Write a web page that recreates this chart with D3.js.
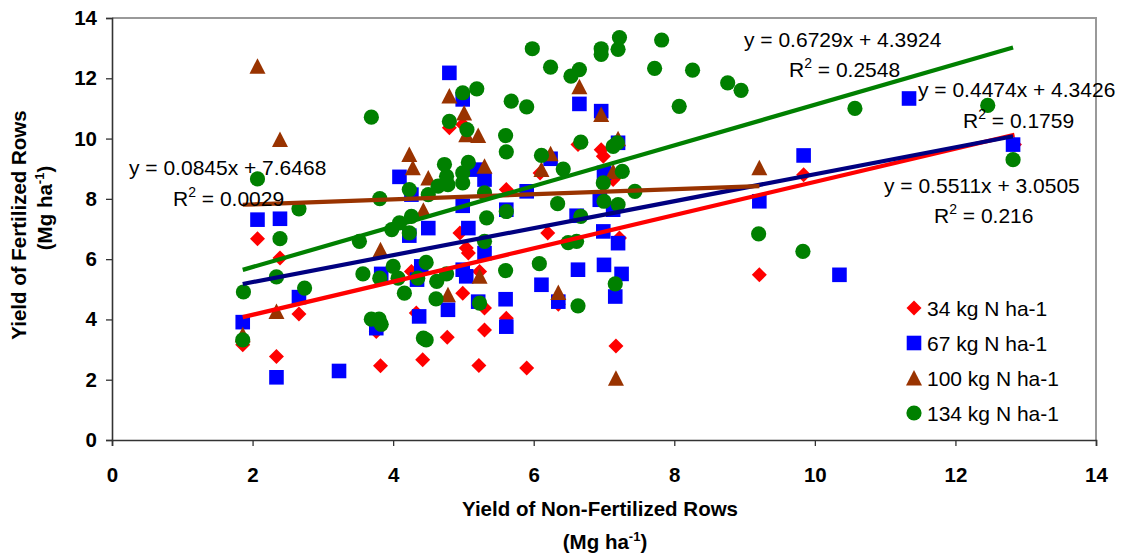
<!DOCTYPE html>
<html>
<head>
<meta charset="utf-8">
<script src="https://cdn.jsdelivr.net/npm/d3@7"></script>
<style>
  body { margin: 0; background: #fff; }
  svg { display: block; font-family: "Liberation Sans", Arial, sans-serif; }
</style>
</head>
<body>
<svg width="1131" height="554"></svg>
<script>
// Yield of fertilized vs non-fertilized rows, four N rates

const seriesNames = ["34 kg N ha-1", "67 kg N ha-1", "100 kg N ha-1", "134 kg N ha-1"];

// [non-fertilized yield, fertilized yield]
const n34 = [
  [1.86, 3.16], [2.07, 6.68], [2.39, 6.04], [2.34, 2.77], [2.66, 4.18], [3.76, 3.60],
  [3.82, 2.46], [4.26, 5.59], [4.33, 4.21], [4.42, 2.66], [4.77, 3.41], [4.80, 10.36],
  [4.99, 10.47], [4.95, 6.87], [5.04, 6.37], [5.07, 6.20], [5.23, 5.59], [4.99, 4.87],
  [5.30, 4.38], [5.30, 3.65], [5.22, 2.47], [5.61, 8.31], [5.61, 4.04], [5.90, 2.39],
  [6.09, 8.86], [6.20, 6.87], [6.35, 4.50], [6.63, 9.80], [6.96, 9.63], [6.99, 9.41],
  [7.13, 8.64], [7.17, 3.12], [7.22, 6.70], [9.21, 5.48], [9.84, 8.80], [12.84, 9.80]
];
const n67 = [
  [1.86, 3.91], [2.07, 7.31], [2.39, 7.34], [2.34, 2.08], [2.66, 4.74], [3.23, 2.29],
  [3.76, 3.71], [3.83, 5.51], [4.09, 8.73], [4.26, 8.14], [4.23, 6.78], [4.50, 7.03],
  [4.34, 5.32], [4.40, 5.76], [4.37, 4.10], [4.80, 12.18], [4.99, 11.30], [5.18, 8.97],
  [5.30, 8.64], [4.99, 7.77], [5.07, 7.03], [5.30, 6.20], [4.99, 5.65], [5.04, 5.43],
  [4.78, 4.32], [5.21, 4.59], [5.61, 7.64], [5.60, 4.67], [5.61, 3.76], [5.90, 8.25],
  [6.11, 5.15], [6.24, 9.33], [6.35, 4.59], [6.61, 7.44], [6.63, 5.65], [6.65, 11.15],
  [6.96, 10.91], [6.94, 7.97], [6.99, 6.92], [7.00, 8.86], [7.00, 5.81], [7.13, 7.64],
  [7.20, 9.86], [7.20, 6.53], [7.25, 5.51], [7.16, 4.76], [9.21, 7.92], [9.84, 9.44],
  [10.35, 5.48], [11.34, 11.33], [12.82, 9.80]
];
const n100 = [
  [1.86, 3.49], [2.07, 12.40], [2.39, 9.97], [2.34, 4.26], [3.82, 6.31], [4.23, 9.47],
  [4.28, 9.03], [4.50, 8.69], [4.43, 7.62], [4.80, 11.41], [5.01, 10.85], [5.04, 10.13],
  [5.21, 10.10], [5.30, 9.08], [4.78, 4.82], [5.23, 5.43], [6.11, 8.97], [6.24, 9.50],
  [6.35, 4.89], [6.65, 11.72], [6.96, 10.80], [7.20, 9.99], [7.13, 8.91], [7.17, 2.05],
  [9.21, 9.03]
];
const n134 = [
  [1.86, 3.32], [1.87, 4.91], [2.07, 8.66], [2.39, 6.68], [2.34, 5.41], [2.66, 7.67],
  [2.74, 5.04], [3.52, 6.59], [3.57, 5.51], [3.69, 10.71], [3.69, 4.01], [3.80, 4.01],
  [3.83, 3.84], [3.81, 5.37], [3.81, 8.01], [3.98, 6.98], [4.00, 5.76], [4.07, 5.37],
  [4.09, 7.20], [4.16, 4.87], [4.23, 8.31], [4.26, 7.42], [4.23, 6.87], [4.35, 5.37],
  [4.47, 5.89], [4.50, 8.14], [4.43, 3.38], [4.47, 3.32], [4.62, 5.26], [4.61, 4.68],
  [4.64, 8.42], [4.73, 9.14], [4.76, 8.75], [4.78, 8.47], [4.76, 5.51], [4.80, 10.57],
  [4.99, 11.52], [5.19, 11.65], [5.05, 10.30], [5.07, 9.21], [4.99, 8.86], [4.99, 8.53],
  [5.30, 8.20], [5.33, 7.37], [5.30, 6.59], [5.23, 4.54], [5.60, 10.10], [5.61, 9.56],
  [5.68, 11.24], [5.90, 11.05], [5.61, 7.58], [5.60, 5.62], [5.98, 12.98], [6.11, 9.44],
  [6.08, 5.85], [6.24, 12.37], [6.34, 7.84], [6.42, 8.99], [6.49, 6.55], [6.53, 12.07],
  [6.65, 12.29], [6.61, 6.59], [6.63, 4.45], [6.67, 9.88], [6.67, 7.42], [6.96, 12.98],
  [6.96, 12.79], [6.99, 8.53], [7.00, 7.92], [7.13, 9.74], [7.19, 9.86], [7.20, 7.81],
  [7.20, 12.96], [7.22, 13.35], [7.26, 8.91], [7.16, 5.18], [7.44, 8.25], [7.72, 12.33],
  [7.82, 13.27], [8.07, 11.07], [8.26, 12.27], [8.76, 11.85], [8.95, 11.60], [9.20, 6.84],
  [9.83, 6.26], [10.57, 11.00], [12.46, 11.10], [12.82, 9.30]
];

// linear trendlines as reported on the chart
const slopes = [0.5511, 0.4474, 0.0845, 0.6729];
const intercepts = [3.0505, 4.3426, 7.6468, 4.3924];
const rSquared = ["0.216", "0.1759", "0.0029", "0.2548"];

const xTicks = [0, 2, 4, 6, 8, 10, 12, 14];
const yTicks = [0, 2, 4, 6, 8, 10, 12, 14];

var allSeries = [n34, n67, n100, n134];
var markerColors = ["#ff0000", "#0000ff", "#993300", "#008000"];
var lineColors = ["#ff0000", "#000080", "#993300", "#008000"];
var shapes = ["diamond", "square", "triangle", "circle"];

var svg = d3.select("svg"),
    plotLeft = 112, plotRight = 1096, plotTop = 18, plotBottom = 440;

var xScale = d3.scaleLinear().domain([0, 14]).range([plotLeft, plotRight]);
var yScale = d3.scaleLinear().domain([0, 14]).range([plotBottom, plotTop]);

function shapePath(shape) {
    if (shape == "diamond") return "M0,-7.5L7.5,0L0,7.5L-7.5,0Z";
    if (shape == "square") return "M-7.3,-7.3H7.3V7.3H-7.3Z";
    if (shape == "triangle") return "M0,-8L8,7.5H-8Z";
    return d3.symbol(d3.symbolCircle, Math.PI * 7.6 * 7.6)();
}

// plot area frame (top and right; left/bottom are the axes)
svg.append("path")
    .attr("d", "M" + plotLeft + "," + plotTop + "H" + plotRight + "V" + plotBottom)
    .attr("fill", "none")
    .attr("stroke", "#999")
    .attr("stroke-width", 2);

// axes
var yAxis = svg.append("g")
    .attr("transform", "translate(" + plotLeft + ",0)")
    .call(d3.axisLeft(yScale).tickValues(yTicks).tickSize(6).tickPadding(9).tickFormat(d3.format("d")));
var xAxis = svg.append("g")
    .attr("transform", "translate(0," + plotBottom + ")")
    .call(d3.axisBottom(xScale).tickValues(xTicks).tickSize(6).tickPadding(21).tickFormat(d3.format("d")));

[xAxis, yAxis].forEach(function(a) {
    a.select(".domain").attr("stroke", "#333").attr("stroke-width", 1.6);
    a.selectAll(".tick line").attr("stroke", "#333").attr("stroke-width", 1.3);
    a.selectAll(".tick text")
        .attr("fill", "#000")
        .style("font-family", "'Liberation Sans', Arial, sans-serif")
        .style("font-size", "20.5px")
        .style("font-weight", "bold");
});

// markers, series in order so green ends up on top
allSeries.forEach(function(data, i) {
    svg.append("g").selectAll("path")
        .data(data)
        .enter()
        .append("path")
        .attr("d", shapePath(shapes[i]))
        .attr("transform", function(d) { return "translate(" + xScale(d[0]) + "," + yScale(d[1]) + ")"; })
        .attr("fill", markerColors[i]);
});

// trendlines over the range of each series
allSeries.forEach(function(data, i) {
    var ext = d3.extent(data, function(d) { return d[0]; });
    var pts = ext.map(function(v) { return [v, slopes[i] * v + intercepts[i]]; });
    svg.append("path")
        .datum(pts)
        .attr("d", d3.line().x(function(d) { return xScale(d[0]); }).y(function(d) { return yScale(d[1]); }))
        .attr("stroke", lineColors[i])
        .attr("stroke-width", 4.2)
        .attr("fill", "none");
});

// trendline labels
var labelPos = [
    [[884, 193], [934, 223]],
    [[918, 97], [963, 128]],
    [[129, 175], [173, 206]],
    [[744, 47], [789, 77]]
];
slopes.forEach(function(s, i) {
    svg.append("text")
        .attr("x", labelPos[i][0][0])
        .attr("y", labelPos[i][0][1])
        .attr("font-size", "21px")
        .text("y = " + s.toFixed(4) + "x + " + intercepts[i].toFixed(4));
    var r = svg.append("text")
        .attr("x", labelPos[i][1][0])
        .attr("y", labelPos[i][1][1])
        .attr("font-size", "21px");
    r.append("tspan").text("R");
    r.append("tspan").attr("dy", -9).attr("font-size", "14px").text("2");
    r.append("tspan").attr("dy", 9).text(" = " + rSquared[i]);
});

// legend
var legend = svg.append("g");
seriesNames.forEach(function(name, i) {
    var cy = 308 + i * 35;
    legend.append("path")
        .attr("d", shapePath(shapes[i]))
        .attr("transform", "translate(914," + cy + ")")
        .attr("fill", markerColors[i]);
    legend.append("text")
        .attr("x", 927)
        .attr("y", cy + 7.5)
        .attr("font-size", "21px")
        .text(name);
});

// axis titles
function unitTitle(sel) {
    sel.append("tspan").text("(Mg ha");
    sel.append("tspan").attr("dy", -8).attr("font-size", "13px").text("-1");
    sel.append("tspan").attr("dy", 8).text(")");
}

svg.append("text")
    .attr("x", 600).attr("y", 516)
    .attr("text-anchor", "middle")
    .attr("font-size", "20.5px").attr("font-weight", "bold")
    .text("Yield of Non-Fertilized Rows");
unitTitle(svg.append("text")
    .attr("x", 605).attr("y", 549)
    .attr("text-anchor", "middle")
    .attr("font-size", "20.5px").attr("font-weight", "bold"));

svg.append("text")
    .attr("transform", "translate(26,225) rotate(-90)")
    .attr("text-anchor", "middle")
    .attr("font-size", "20.5px").attr("font-weight", "bold")
    .text("Yield of Fertilized Rows");
unitTitle(svg.append("text")
    .attr("transform", "translate(52,208) rotate(-90)")
    .attr("text-anchor", "middle")
    .attr("font-size", "20.5px").attr("font-weight", "bold"));
</script>
</body>
</html>
